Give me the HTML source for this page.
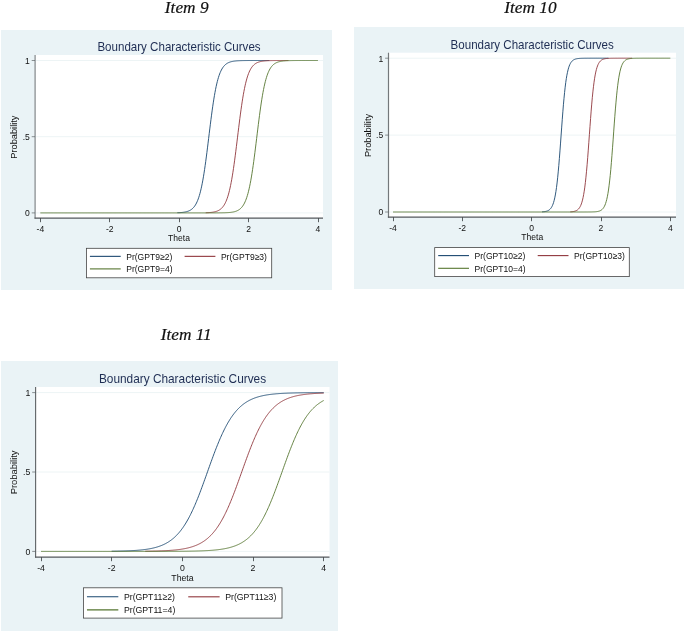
<!DOCTYPE html>
<html><head><meta charset="utf-8"><title>Boundary Characteristic Curves</title>
<style>html,body{margin:0;padding:0;background:#fff}svg{display:block}</style></head>
<body>
<svg width="685" height="632" viewBox="0 0 685 632" font-family="'Liberation Sans', Arial, sans-serif" fill="#111">
<rect x="1" y="30" width="331" height="260" fill="#eaf3f6"/>
<rect x="35" y="55" width="288" height="163" fill="#fff"/>
<line x1="35" x2="323" y1="212.90" y2="212.90" stroke="#edf4f5" stroke-width="1"/>
<line x1="35" x2="323" y1="136.70" y2="136.70" stroke="#edf4f5" stroke-width="1"/>
<line x1="35" x2="323" y1="60.50" y2="60.50" stroke="#edf4f5" stroke-width="1"/>
<path d="M177.42,212.73 L177.99,212.71 L178.57,212.68 L179.15,212.65 L179.73,212.62 L180.31,212.58 L180.88,212.54 L181.46,212.49 L182.04,212.44 L182.62,212.38 L183.20,212.31 L183.78,212.23 L184.35,212.14 L184.93,212.04 L185.51,211.92 L186.09,211.80 L186.67,211.65 L187.24,211.48 L187.82,211.30 L188.40,211.09 L188.98,210.85 L189.56,210.58 L190.13,210.28 L190.71,209.94 L191.29,209.55 L191.87,209.11 L192.45,208.62 L193.03,208.07 L193.60,207.45 L194.18,206.76 L194.76,205.98 L195.34,205.10 L195.92,204.12 L196.49,203.03 L197.07,201.81 L197.65,200.45 L198.23,198.95 L198.81,197.28 L199.38,195.44 L199.96,193.41 L200.54,191.19 L201.12,188.76 L201.70,186.11 L202.28,183.23 L202.85,180.13 L203.43,176.80 L204.01,173.25 L204.59,169.47 L205.17,165.49 L205.74,161.31 L206.32,156.97 L206.90,152.47 L207.48,147.86 L208.06,143.16 L208.63,138.41 L209.21,133.65 L209.79,128.92 L210.37,124.24 L210.95,119.66 L211.53,115.20 L212.10,110.90 L212.68,106.78 L213.26,102.85 L213.84,99.13 L214.42,95.64 L214.99,92.38 L215.57,89.34 L216.15,86.53 L216.73,83.94 L217.31,81.57 L217.88,79.40 L218.46,77.42 L219.04,75.63 L219.62,74.01 L220.20,72.55 L220.78,71.23 L221.35,70.05 L221.93,68.99 L222.51,68.04 L223.09,67.20 L223.67,66.44 L224.24,65.77 L224.82,65.17 L225.40,64.63 L225.98,64.16 L226.56,63.74 L227.13,63.36 L227.71,63.03 L228.29,62.74 L228.87,62.48 L229.45,62.25 L230.03,62.05 L230.60,61.87 L231.18,61.71 L231.76,61.57 L232.34,61.44 L232.92,61.33 L233.49,61.23 L234.07,61.15 L234.65,61.07 L235.23,61.01 L235.81,60.95 L236.38,60.89 L236.96,60.85 L237.54,60.81 L238.12,60.77 L238.70,60.74 L239.28,60.71 L239.85,60.69 L240.43,60.66 L241.01,60.65 L241.59,60.63 L242.17,60.61 L242.74,60.60 L243.32,60.59 L243.90,60.58 L244.48,60.57 L245.06,60.56 L245.63,60.55 L246.21,60.55 L246.79,60.54 L247.37,60.54 L247.95,60.53 L248.53,60.53 L249.10,60.53 L249.68,60.52 L250.26,60.52 L250.84,60.52 L251.42,60.52 L251.99,60.51 L252.57,60.51 L253.15,60.51 L253.73,60.51 L254.31,60.51 L254.88,60.51 L255.46,60.51 L256.04,60.51 L256.62,60.50 L257.20,60.50 L257.77,60.50 L258.35,60.50 L258.93,60.50 L259.51,60.50 L260.09,60.50 L260.67,60.50 L261.24,60.50 L261.82,60.50 L262.40,60.50 L262.98,60.50 L263.56,60.50 L264.13,60.50 L264.71,60.50 L265.29,60.50 L265.87,60.50 L266.45,60.50 L267.02,60.50 L267.60,60.50 L268.18,60.50 L268.76,60.50 L269.34,60.50" fill="none" stroke="#1a476f" stroke-width="0.9" stroke-linejoin="round"/>
<path d="M205.74,212.74 L206.32,212.72 L206.90,212.70 L207.48,212.67 L208.06,212.64 L208.63,212.61 L209.21,212.57 L209.79,212.53 L210.37,212.48 L210.95,212.42 L211.53,212.36 L212.10,212.29 L212.68,212.21 L213.26,212.11 L213.84,212.01 L214.42,211.89 L214.99,211.76 L215.57,211.61 L216.15,211.44 L216.73,211.25 L217.31,211.03 L217.88,210.78 L218.46,210.51 L219.04,210.19 L219.62,209.84 L220.20,209.44 L220.78,208.99 L221.35,208.49 L221.93,207.92 L222.51,207.28 L223.09,206.56 L223.67,205.76 L224.24,204.86 L224.82,203.85 L225.40,202.73 L225.98,201.47 L226.56,200.08 L227.13,198.53 L227.71,196.82 L228.29,194.93 L228.87,192.85 L229.45,190.58 L230.03,188.09 L230.60,185.38 L231.18,182.45 L231.76,179.29 L232.34,175.90 L232.92,172.29 L233.49,168.46 L234.07,164.42 L234.65,160.20 L235.23,155.81 L235.81,151.28 L236.38,146.64 L236.96,141.93 L237.54,137.18 L238.12,132.42 L238.70,127.69 L239.28,123.04 L239.85,118.49 L240.43,114.07 L241.01,109.81 L241.59,105.73 L242.17,101.86 L242.74,98.20 L243.32,94.77 L243.90,91.56 L244.48,88.59 L245.06,85.84 L245.63,83.30 L246.21,80.98 L246.79,78.87 L247.37,76.94 L247.95,75.20 L248.53,73.62 L249.10,72.20 L249.68,70.91 L250.26,69.77 L250.84,68.74 L251.42,67.81 L251.99,66.99 L252.57,66.26 L253.15,65.60 L253.73,65.02 L254.31,64.50 L254.88,64.04 L255.46,63.64 L256.04,63.27 L256.62,62.95 L257.20,62.67 L257.77,62.42 L258.35,62.20 L258.93,62.00 L259.51,61.82 L260.09,61.67 L260.67,61.53 L261.24,61.41 L261.82,61.31 L262.40,61.21 L262.98,61.13 L263.56,61.05 L264.13,60.99 L264.71,60.93 L265.29,60.88 L265.87,60.84 L266.45,60.80 L267.02,60.76 L267.60,60.73 L268.18,60.70 L268.76,60.68 L269.34,60.66 L269.92,60.64 L270.49,60.62 L271.07,60.61 L271.65,60.60 L272.23,60.59 L272.81,60.58 L273.38,60.57 L273.96,60.56 L274.54,60.55 L275.12,60.55 L275.70,60.54 L276.27,60.54 L276.85,60.53 L277.43,60.53 L278.01,60.52 L278.59,60.52 L279.17,60.52 L279.74,60.52 L280.32,60.51 L280.90,60.51 L281.48,60.51 L282.06,60.51 L282.63,60.51 L283.21,60.51 L283.79,60.51 L284.37,60.51 L284.95,60.51 L285.52,60.50 L286.10,60.50 L286.68,60.50 L287.26,60.50 L287.84,60.50 L288.42,60.50" fill="none" stroke="#90353b" stroke-width="0.9" stroke-linejoin="round"/>
<path d="M40.40,212.90 L40.98,212.90 L41.56,212.90 L42.13,212.90 L42.71,212.90 L43.29,212.90 L43.87,212.90 L44.45,212.90 L45.02,212.90 L45.60,212.90 L46.18,212.90 L46.76,212.90 L47.34,212.90 L47.92,212.90 L48.49,212.90 L49.07,212.90 L49.65,212.90 L50.23,212.90 L50.81,212.90 L51.38,212.90 L51.96,212.90 L52.54,212.90 L53.12,212.90 L53.70,212.90 L54.27,212.90 L54.85,212.90 L55.43,212.90 L56.01,212.90 L56.59,212.90 L57.17,212.90 L57.74,212.90 L58.32,212.90 L58.90,212.90 L59.48,212.90 L60.06,212.90 L60.63,212.90 L61.21,212.90 L61.79,212.90 L62.37,212.90 L62.95,212.90 L63.52,212.90 L64.10,212.90 L64.68,212.90 L65.26,212.90 L65.84,212.90 L66.42,212.90 L66.99,212.90 L67.57,212.90 L68.15,212.90 L68.73,212.90 L69.31,212.90 L69.88,212.90 L70.46,212.90 L71.04,212.90 L71.62,212.90 L72.20,212.90 L72.78,212.90 L73.35,212.90 L73.93,212.90 L74.51,212.90 L75.09,212.90 L75.67,212.90 L76.24,212.90 L76.82,212.90 L77.40,212.90 L77.98,212.90 L78.56,212.90 L79.13,212.90 L79.71,212.90 L80.29,212.90 L80.87,212.90 L81.45,212.90 L82.03,212.90 L82.60,212.90 L83.18,212.90 L83.76,212.90 L84.34,212.90 L84.92,212.90 L85.49,212.90 L86.07,212.90 L86.65,212.90 L87.23,212.90 L87.81,212.90 L88.38,212.90 L88.96,212.90 L89.54,212.90 L90.12,212.90 L90.70,212.90 L91.28,212.90 L91.85,212.90 L92.43,212.90 L93.01,212.90 L93.59,212.90 L94.17,212.90 L94.74,212.90 L95.32,212.90 L95.90,212.90 L96.48,212.90 L97.06,212.90 L97.63,212.90 L98.21,212.90 L98.79,212.90 L99.37,212.90 L99.95,212.90 L100.53,212.90 L101.10,212.90 L101.68,212.90 L102.26,212.90 L102.84,212.90 L103.42,212.90 L103.99,212.90 L104.57,212.90 L105.15,212.90 L105.73,212.90 L106.31,212.90 L106.88,212.90 L107.46,212.90 L108.04,212.90 L108.62,212.90 L109.20,212.90 L109.78,212.90 L110.35,212.90 L110.93,212.90 L111.51,212.90 L112.09,212.90 L112.67,212.90 L113.24,212.90 L113.82,212.90 L114.40,212.90 L114.98,212.90 L115.56,212.90 L116.13,212.90 L116.71,212.90 L117.29,212.90 L117.87,212.90 L118.45,212.90 L119.03,212.90 L119.60,212.90 L120.18,212.90 L120.76,212.90 L121.34,212.90 L121.92,212.90 L122.49,212.90 L123.07,212.90 L123.65,212.90 L124.23,212.90 L124.81,212.90 L125.38,212.90 L125.96,212.90 L126.54,212.90 L127.12,212.90 L127.70,212.90 L128.28,212.90 L128.85,212.90 L129.43,212.90 L130.01,212.90 L130.59,212.90 L131.17,212.90 L131.74,212.90 L132.32,212.90 L132.90,212.90 L133.48,212.90 L134.06,212.90 L134.63,212.90 L135.21,212.90 L135.79,212.90 L136.37,212.90 L136.95,212.90 L137.53,212.90 L138.10,212.90 L138.68,212.90 L139.26,212.90 L139.84,212.90 L140.42,212.90 L140.99,212.90 L141.57,212.90 L142.15,212.90 L142.73,212.90 L143.31,212.90 L143.88,212.90 L144.46,212.90 L145.04,212.90 L145.62,212.90 L146.20,212.90 L146.78,212.90 L147.35,212.90 L147.93,212.90 L148.51,212.90 L149.09,212.90 L149.67,212.90 L150.24,212.90 L150.82,212.90 L151.40,212.90 L151.98,212.90 L152.56,212.90 L153.13,212.90 L153.71,212.90 L154.29,212.90 L154.87,212.90 L155.45,212.90 L156.03,212.90 L156.60,212.90 L157.18,212.90 L157.76,212.90 L158.34,212.90 L158.92,212.90 L159.49,212.90 L160.07,212.90 L160.65,212.90 L161.23,212.90 L161.81,212.90 L162.38,212.90 L162.96,212.90 L163.54,212.90 L164.12,212.90 L164.70,212.90 L165.28,212.90 L165.85,212.90 L166.43,212.90 L167.01,212.90 L167.59,212.90 L168.17,212.90 L168.74,212.90 L169.32,212.90 L169.90,212.90 L170.48,212.90 L171.06,212.90 L171.63,212.90 L172.21,212.90 L172.79,212.90 L173.37,212.90 L173.95,212.90 L174.53,212.90 L175.10,212.90 L175.68,212.90 L176.26,212.90 L176.84,212.90 L177.42,212.90 L177.99,212.90 L178.57,212.90 L179.15,212.90 L179.73,212.90 L180.31,212.90 L180.88,212.90 L181.46,212.90 L182.04,212.90 L182.62,212.90 L183.20,212.90 L183.78,212.90 L184.35,212.90 L184.93,212.90 L185.51,212.90 L186.09,212.90 L186.67,212.90 L187.24,212.90 L187.82,212.90 L188.40,212.90 L188.98,212.90 L189.56,212.90 L190.13,212.90 L190.71,212.90 L191.29,212.90 L191.87,212.90 L192.45,212.90 L193.03,212.90 L193.60,212.90 L194.18,212.90 L194.76,212.90 L195.34,212.90 L195.92,212.90 L196.49,212.90 L197.07,212.90 L197.65,212.90 L198.23,212.90 L198.81,212.90 L199.38,212.90 L199.96,212.90 L200.54,212.90 L201.12,212.90 L201.70,212.90 L202.28,212.90 L202.85,212.90 L203.43,212.90 L204.01,212.90 L204.59,212.90 L205.17,212.90 L205.74,212.90 L206.32,212.90 L206.90,212.90 L207.48,212.90 L208.06,212.90 L208.63,212.90 L209.21,212.89 L209.79,212.89 L210.37,212.89 L210.95,212.89 L211.53,212.89 L212.10,212.89 L212.68,212.89 L213.26,212.89 L213.84,212.89 L214.42,212.88 L214.99,212.88 L215.57,212.88 L216.15,212.88 L216.73,212.87 L217.31,212.87 L217.88,212.87 L218.46,212.86 L219.04,212.86 L219.62,212.85 L220.20,212.84 L220.78,212.84 L221.35,212.83 L221.93,212.82 L222.51,212.81 L223.09,212.80 L223.67,212.78 L224.24,212.77 L224.82,212.75 L225.40,212.73 L225.98,212.71 L226.56,212.68 L227.13,212.65 L227.71,212.62 L228.29,212.58 L228.87,212.54 L229.45,212.49 L230.03,212.44 L230.60,212.38 L231.18,212.31 L231.76,212.23 L232.34,212.14 L232.92,212.04 L233.49,211.93 L234.07,211.80 L234.65,211.66 L235.23,211.49 L235.81,211.31 L236.38,211.10 L236.96,210.86 L237.54,210.59 L238.12,210.29 L238.70,209.95 L239.28,209.57 L239.85,209.13 L240.43,208.64 L241.01,208.10 L241.59,207.48 L242.17,206.79 L242.74,206.01 L243.32,205.14 L243.90,204.16 L244.48,203.08 L245.06,201.86 L245.63,200.51 L246.21,199.01 L246.79,197.35 L247.37,195.52 L247.95,193.50 L248.53,191.28 L249.10,188.86 L249.68,186.22 L250.26,183.35 L250.84,180.26 L251.42,176.94 L251.99,173.39 L252.57,169.63 L253.15,165.65 L253.73,161.48 L254.31,157.14 L254.88,152.65 L255.46,148.05 L256.04,143.35 L256.62,138.60 L257.20,133.84 L257.77,129.11 L258.35,124.43 L258.93,119.84 L259.51,115.38 L260.09,111.07 L260.67,106.94 L261.24,103.00 L261.82,99.28 L262.40,95.78 L262.98,92.50 L263.56,89.46 L264.13,86.64 L264.71,84.04 L265.29,81.66 L265.87,79.48 L266.45,77.50 L267.02,75.70 L267.60,74.07 L268.18,72.61 L268.76,71.28 L269.34,70.10 L269.92,69.03 L270.49,68.08 L271.07,67.23 L271.65,66.47 L272.23,65.79 L272.81,65.19 L273.38,64.65 L273.96,64.18 L274.54,63.75 L275.12,63.38 L275.70,63.05 L276.27,62.75 L276.85,62.49 L277.43,62.26 L278.01,62.05 L278.59,61.87 L279.17,61.71 L279.74,61.57 L280.32,61.45 L280.90,61.34 L281.48,61.24 L282.06,61.15 L282.63,61.08 L283.21,61.01 L283.79,60.95 L284.37,60.90 L284.95,60.85 L285.52,60.81 L286.10,60.77 L286.68,60.74 L287.26,60.71 L287.84,60.69 L288.42,60.67 L288.99,60.65 L289.57,60.63 L290.15,60.61 L290.73,60.60 L291.31,60.59 L291.88,60.58 L292.46,60.57 L293.04,60.56 L293.62,60.55 L294.20,60.55 L294.77,60.54 L295.35,60.54 L295.93,60.53 L296.51,60.53 L297.09,60.53 L297.67,60.52 L298.24,60.52 L298.82,60.52 L299.40,60.52 L299.98,60.51 L300.56,60.51 L301.13,60.51 L301.71,60.51 L302.29,60.51 L302.87,60.51 L303.45,60.51 L304.02,60.51 L304.60,60.50 L305.18,60.50 L305.76,60.50 L306.34,60.50 L306.92,60.50 L307.49,60.50 L308.07,60.50 L308.65,60.50 L309.23,60.50 L309.81,60.50 L310.38,60.50 L310.96,60.50 L311.54,60.50 L312.12,60.50 L312.70,60.50 L313.27,60.50 L313.85,60.50 L314.43,60.50 L315.01,60.50 L315.59,60.50 L316.17,60.50 L316.74,60.50 L317.32,60.50 L317.90,60.50" fill="none" stroke="#55752f" stroke-width="0.9" stroke-linejoin="round"/>
<line x1="35.1" x2="35.1" y1="55" y2="218.6" stroke="#8a8f92" stroke-width="1.3"/>
<line x1="34.5" x2="323" y1="218.1" y2="218.1" stroke="#55595c" stroke-width="1.1"/>
<line x1="31.7" x2="35" y1="212.90" y2="212.90" stroke="#55595c" stroke-width="0.65"/>
<text transform="translate(29.80,216.23) scale(0.926,1)" font-size="9.25" text-anchor="end">0</text>
<line x1="31.7" x2="35" y1="136.70" y2="136.70" stroke="#55595c" stroke-width="0.65"/>
<text transform="translate(29.80,140.03) scale(0.926,1)" font-size="9.25" text-anchor="end">.5</text>
<line x1="31.7" x2="35" y1="60.50" y2="60.50" stroke="#55595c" stroke-width="0.65"/>
<text transform="translate(29.80,63.83) scale(0.926,1)" font-size="9.25" text-anchor="end">1</text>
<line x1="40.50" x2="40.50" y1="218" y2="222.2" stroke="#4a4e51" stroke-width="0.9"/>
<text transform="translate(40.40,231.60) scale(0.926,1)" font-size="9.25" text-anchor="middle">-4</text>
<line x1="109.50" x2="109.50" y1="218" y2="222.2" stroke="#4a4e51" stroke-width="0.9"/>
<text transform="translate(109.78,231.60) scale(0.926,1)" font-size="9.25" text-anchor="middle">-2</text>
<line x1="179.50" x2="179.50" y1="218" y2="222.2" stroke="#4a4e51" stroke-width="0.9"/>
<text transform="translate(179.15,231.60) scale(0.926,1)" font-size="9.25" text-anchor="middle">0</text>
<line x1="248.50" x2="248.50" y1="218" y2="222.2" stroke="#4a4e51" stroke-width="0.9"/>
<text transform="translate(248.53,231.60) scale(0.926,1)" font-size="9.25" text-anchor="middle">2</text>
<line x1="318.50" x2="318.50" y1="218" y2="222.2" stroke="#4a4e51" stroke-width="0.9"/>
<text transform="translate(317.90,231.60) scale(0.926,1)" font-size="9.25" text-anchor="middle">4</text>
<text transform="translate(179.00,240.80) scale(0.926,1)" font-size="9.25" text-anchor="middle">Theta</text>
<text transform="translate(17.10,137.10) rotate(-90) scale(1,0.926)" font-size="9.25" text-anchor="middle">Probability</text>
<text transform="translate(179.00,51.30) scale(0.926,1)" font-size="12.50" text-anchor="middle" fill="#1e2d53">Boundary Characteristic Curves</text>
<rect x="86.4" y="248.3" width="185.29999999999998" height="29.5" fill="#fff" stroke="#444" stroke-width="0.8"/>
<line x1="89.90" x2="120.70" y1="256.35" y2="256.35" stroke="#1a476f" stroke-width="1.1"/>
<text transform="translate(126.20,259.68) scale(0.926,1)" font-size="9.25" text-anchor="start">Pr(GPT9≥2)</text>
<line x1="184.60" x2="215.40" y1="256.35" y2="256.35" stroke="#90353b" stroke-width="1.1"/>
<text transform="translate(220.90,259.68) scale(0.926,1)" font-size="9.25" text-anchor="start">Pr(GPT9≥3)</text>
<line x1="89.90" x2="120.70" y1="268.90" y2="268.90" stroke="#55752f" stroke-width="1.1"/>
<text transform="translate(126.20,272.23) scale(0.926,1)" font-size="9.25" text-anchor="start">Pr(GPT9=4)</text>
<rect x="354" y="27" width="330" height="262" fill="#eaf3f6"/>
<rect x="388.4" y="52.7" width="287.6" height="164.3" fill="#fff"/>
<line x1="388.4" x2="676" y1="212.00" y2="212.00" stroke="#edf4f5" stroke-width="1"/>
<line x1="388.4" x2="676" y1="135.10" y2="135.10" stroke="#edf4f5" stroke-width="1"/>
<line x1="388.4" x2="676" y1="58.20" y2="58.20" stroke="#edf4f5" stroke-width="1"/>
<path d="M542.05,211.84 L542.63,211.80 L543.20,211.76 L543.78,211.70 L544.36,211.64 L544.94,211.55 L545.51,211.45 L546.09,211.32 L546.67,211.16 L547.25,210.97 L547.83,210.73 L548.40,210.44 L548.98,210.09 L549.56,209.65 L550.14,209.12 L550.71,208.47 L551.29,207.67 L551.87,206.70 L552.45,205.53 L553.03,204.10 L553.60,202.39 L554.18,200.33 L554.76,197.88 L555.34,194.97 L555.91,191.55 L556.49,187.57 L557.07,182.97 L557.65,177.75 L558.22,171.88 L558.80,165.41 L559.38,158.38 L559.96,150.89 L560.54,143.08 L561.11,135.10 L561.69,127.12 L562.27,119.31 L562.85,111.82 L563.42,104.79 L564.00,98.32 L564.58,92.45 L565.16,87.23 L565.73,82.63 L566.31,78.65 L566.89,75.23 L567.47,72.32 L568.05,69.87 L568.62,67.81 L569.20,66.10 L569.78,64.67 L570.36,63.50 L570.93,62.53 L571.51,61.73 L572.09,61.08 L572.67,60.55 L573.25,60.11 L573.82,59.76 L574.40,59.47 L574.98,59.23 L575.56,59.04 L576.13,58.88 L576.71,58.75 L577.29,58.65 L577.87,58.56 L578.44,58.50 L579.02,58.44 L579.60,58.40 L580.18,58.36 L580.76,58.33 L581.33,58.30 L581.91,58.29 L582.49,58.27 L583.07,58.26 L583.64,58.25 L584.22,58.24 L584.80,58.23 L585.38,58.22 L585.95,58.22 L586.53,58.22 L587.11,58.21 L587.69,58.21 L588.27,58.21 L588.84,58.21 L589.42,58.21 L590.00,58.20 L590.58,58.20 L591.15,58.20 L591.73,58.20 L592.31,58.20 L592.89,58.20 L593.46,58.20 L594.04,58.20 L594.62,58.20 L595.20,58.20 L595.78,58.20 L596.35,58.20 L596.93,58.20 L597.51,58.20 L598.09,58.20 L598.66,58.20 L599.24,58.20 L599.82,58.20 L600.40,58.20 L600.97,58.20 L601.55,58.20 L602.13,58.20 L602.71,58.20 L603.29,58.20 L603.86,58.20 L604.44,58.20 L605.02,58.20 L605.60,58.20 L606.17,58.20 L606.75,58.20 L607.33,58.20 L607.91,58.20 L608.49,58.20" fill="none" stroke="#1a476f" stroke-width="0.9" stroke-linejoin="round"/>
<path d="M570.36,211.84 L570.93,211.80 L571.51,211.75 L572.09,211.70 L572.67,211.63 L573.25,211.54 L573.82,211.44 L574.40,211.31 L574.98,211.15 L575.56,210.95 L576.13,210.71 L576.71,210.41 L577.29,210.05 L577.87,209.60 L578.44,209.06 L579.02,208.39 L579.60,207.58 L580.18,206.59 L580.76,205.40 L581.33,203.95 L581.91,202.20 L582.49,200.11 L583.07,197.61 L583.64,194.65 L584.22,191.18 L584.80,187.13 L585.38,182.48 L585.95,177.19 L586.53,171.26 L587.11,164.73 L587.69,157.65 L588.27,150.12 L588.84,142.29 L589.42,134.30 L590.00,126.33 L590.58,118.54 L591.15,111.10 L591.73,104.12 L592.31,97.70 L592.89,91.90 L593.46,86.74 L594.04,82.21 L594.62,78.28 L595.20,74.92 L595.78,72.06 L596.35,69.64 L596.93,67.62 L597.51,65.94 L598.09,64.55 L598.66,63.39 L599.24,62.44 L599.82,61.66 L600.40,61.02 L600.97,60.50 L601.55,60.07 L602.13,59.72 L602.71,59.44 L603.29,59.21 L603.86,59.02 L604.44,58.87 L605.02,58.74 L605.60,58.64 L606.17,58.56 L606.75,58.49 L607.33,58.44 L607.91,58.39 L608.49,58.36 L609.06,58.33 L609.64,58.30 L610.22,58.28 L610.80,58.27 L611.37,58.25 L611.95,58.24 L612.53,58.24 L613.11,58.23 L613.68,58.22 L614.26,58.22 L614.84,58.22 L615.42,58.21 L616.00,58.21 L616.57,58.21 L617.15,58.21 L617.73,58.21 L618.31,58.20 L618.88,58.20 L619.46,58.20 L620.04,58.20 L620.62,58.20 L621.19,58.20 L621.77,58.20 L622.35,58.20 L622.93,58.20 L623.51,58.20 L624.08,58.20 L624.66,58.20 L625.24,58.20 L625.82,58.20 L626.39,58.20 L626.97,58.20 L627.55,58.20 L628.13,58.20 L628.70,58.20 L629.28,58.20 L629.86,58.20 L630.44,58.20 L631.02,58.20 L631.59,58.20 L632.17,58.20" fill="none" stroke="#90353b" stroke-width="0.9" stroke-linejoin="round"/>
<path d="M393.00,212.00 L393.58,212.00 L394.16,212.00 L394.73,212.00 L395.31,212.00 L395.89,212.00 L396.47,212.00 L397.04,212.00 L397.62,212.00 L398.20,212.00 L398.78,212.00 L399.35,212.00 L399.93,212.00 L400.51,212.00 L401.09,212.00 L401.67,212.00 L402.24,212.00 L402.82,212.00 L403.40,212.00 L403.98,212.00 L404.55,212.00 L405.13,212.00 L405.71,212.00 L406.29,212.00 L406.87,212.00 L407.44,212.00 L408.02,212.00 L408.60,212.00 L409.18,212.00 L409.75,212.00 L410.33,212.00 L410.91,212.00 L411.49,212.00 L412.06,212.00 L412.64,212.00 L413.22,212.00 L413.80,212.00 L414.38,212.00 L414.95,212.00 L415.53,212.00 L416.11,212.00 L416.69,212.00 L417.26,212.00 L417.84,212.00 L418.42,212.00 L419.00,212.00 L419.57,212.00 L420.15,212.00 L420.73,212.00 L421.31,212.00 L421.89,212.00 L422.46,212.00 L423.04,212.00 L423.62,212.00 L424.20,212.00 L424.77,212.00 L425.35,212.00 L425.93,212.00 L426.51,212.00 L427.08,212.00 L427.66,212.00 L428.24,212.00 L428.82,212.00 L429.40,212.00 L429.97,212.00 L430.55,212.00 L431.13,212.00 L431.71,212.00 L432.28,212.00 L432.86,212.00 L433.44,212.00 L434.02,212.00 L434.60,212.00 L435.17,212.00 L435.75,212.00 L436.33,212.00 L436.91,212.00 L437.48,212.00 L438.06,212.00 L438.64,212.00 L439.22,212.00 L439.79,212.00 L440.37,212.00 L440.95,212.00 L441.53,212.00 L442.11,212.00 L442.68,212.00 L443.26,212.00 L443.84,212.00 L444.42,212.00 L444.99,212.00 L445.57,212.00 L446.15,212.00 L446.73,212.00 L447.30,212.00 L447.88,212.00 L448.46,212.00 L449.04,212.00 L449.62,212.00 L450.19,212.00 L450.77,212.00 L451.35,212.00 L451.93,212.00 L452.50,212.00 L453.08,212.00 L453.66,212.00 L454.24,212.00 L454.81,212.00 L455.39,212.00 L455.97,212.00 L456.55,212.00 L457.13,212.00 L457.70,212.00 L458.28,212.00 L458.86,212.00 L459.44,212.00 L460.01,212.00 L460.59,212.00 L461.17,212.00 L461.75,212.00 L462.32,212.00 L462.90,212.00 L463.48,212.00 L464.06,212.00 L464.64,212.00 L465.21,212.00 L465.79,212.00 L466.37,212.00 L466.95,212.00 L467.52,212.00 L468.10,212.00 L468.68,212.00 L469.26,212.00 L469.84,212.00 L470.41,212.00 L470.99,212.00 L471.57,212.00 L472.15,212.00 L472.72,212.00 L473.30,212.00 L473.88,212.00 L474.46,212.00 L475.03,212.00 L475.61,212.00 L476.19,212.00 L476.77,212.00 L477.35,212.00 L477.92,212.00 L478.50,212.00 L479.08,212.00 L479.66,212.00 L480.23,212.00 L480.81,212.00 L481.39,212.00 L481.97,212.00 L482.54,212.00 L483.12,212.00 L483.70,212.00 L484.28,212.00 L484.86,212.00 L485.43,212.00 L486.01,212.00 L486.59,212.00 L487.17,212.00 L487.74,212.00 L488.32,212.00 L488.90,212.00 L489.48,212.00 L490.05,212.00 L490.63,212.00 L491.21,212.00 L491.79,212.00 L492.37,212.00 L492.94,212.00 L493.52,212.00 L494.10,212.00 L494.68,212.00 L495.25,212.00 L495.83,212.00 L496.41,212.00 L496.99,212.00 L497.57,212.00 L498.14,212.00 L498.72,212.00 L499.30,212.00 L499.88,212.00 L500.45,212.00 L501.03,212.00 L501.61,212.00 L502.19,212.00 L502.76,212.00 L503.34,212.00 L503.92,212.00 L504.50,212.00 L505.08,212.00 L505.65,212.00 L506.23,212.00 L506.81,212.00 L507.39,212.00 L507.96,212.00 L508.54,212.00 L509.12,212.00 L509.70,212.00 L510.27,212.00 L510.85,212.00 L511.43,212.00 L512.01,212.00 L512.59,212.00 L513.16,212.00 L513.74,212.00 L514.32,212.00 L514.90,212.00 L515.47,212.00 L516.05,212.00 L516.63,212.00 L517.21,212.00 L517.78,212.00 L518.36,212.00 L518.94,212.00 L519.52,212.00 L520.10,212.00 L520.67,212.00 L521.25,212.00 L521.83,212.00 L522.41,212.00 L522.98,212.00 L523.56,212.00 L524.14,212.00 L524.72,212.00 L525.30,212.00 L525.87,212.00 L526.45,212.00 L527.03,212.00 L527.61,212.00 L528.18,212.00 L528.76,212.00 L529.34,212.00 L529.92,212.00 L530.49,212.00 L531.07,212.00 L531.65,212.00 L532.23,212.00 L532.81,212.00 L533.38,212.00 L533.96,212.00 L534.54,212.00 L535.12,212.00 L535.69,212.00 L536.27,212.00 L536.85,212.00 L537.43,212.00 L538.00,212.00 L538.58,212.00 L539.16,212.00 L539.74,212.00 L540.32,212.00 L540.89,212.00 L541.47,212.00 L542.05,212.00 L542.63,212.00 L543.20,212.00 L543.78,212.00 L544.36,212.00 L544.94,212.00 L545.51,212.00 L546.09,212.00 L546.67,212.00 L547.25,212.00 L547.83,212.00 L548.40,212.00 L548.98,212.00 L549.56,212.00 L550.14,212.00 L550.71,212.00 L551.29,212.00 L551.87,212.00 L552.45,212.00 L553.03,212.00 L553.60,212.00 L554.18,212.00 L554.76,212.00 L555.34,212.00 L555.91,212.00 L556.49,212.00 L557.07,212.00 L557.65,212.00 L558.22,212.00 L558.80,212.00 L559.38,212.00 L559.96,212.00 L560.54,212.00 L561.11,212.00 L561.69,212.00 L562.27,212.00 L562.85,212.00 L563.42,212.00 L564.00,212.00 L564.58,212.00 L565.16,212.00 L565.73,212.00 L566.31,212.00 L566.89,212.00 L567.47,212.00 L568.05,212.00 L568.62,212.00 L569.20,212.00 L569.78,212.00 L570.36,212.00 L570.93,212.00 L571.51,212.00 L572.09,212.00 L572.67,212.00 L573.25,212.00 L573.82,212.00 L574.40,212.00 L574.98,212.00 L575.56,212.00 L576.13,212.00 L576.71,212.00 L577.29,212.00 L577.87,212.00 L578.44,212.00 L579.02,212.00 L579.60,212.00 L580.18,212.00 L580.76,212.00 L581.33,212.00 L581.91,212.00 L582.49,212.00 L583.07,212.00 L583.64,212.00 L584.22,212.00 L584.80,211.99 L585.38,211.99 L585.95,211.99 L586.53,211.99 L587.11,211.99 L587.69,211.99 L588.27,211.98 L588.84,211.98 L589.42,211.97 L590.00,211.97 L590.58,211.96 L591.15,211.95 L591.73,211.94 L592.31,211.92 L592.89,211.91 L593.46,211.89 L594.04,211.86 L594.62,211.83 L595.20,211.79 L595.78,211.74 L596.35,211.68 L596.93,211.60 L597.51,211.51 L598.09,211.40 L598.66,211.26 L599.24,211.09 L599.82,210.88 L600.40,210.63 L600.97,210.31 L601.55,209.92 L602.13,209.45 L602.71,208.87 L603.29,208.17 L603.86,207.31 L604.44,206.26 L605.02,204.99 L605.60,203.46 L606.17,201.61 L606.75,199.40 L607.33,196.77 L607.91,193.67 L608.49,190.03 L609.06,185.80 L609.64,180.96 L610.22,175.48 L610.80,169.36 L611.37,162.66 L611.95,155.43 L612.53,147.80 L613.11,139.90 L613.68,131.90 L614.26,123.96 L614.84,116.27 L615.42,108.95 L616.00,102.13 L616.57,95.89 L617.15,90.28 L617.73,85.31 L618.31,80.97 L618.88,77.22 L619.46,74.01 L620.04,71.29 L620.62,69.00 L621.19,67.09 L621.77,65.49 L622.35,64.18 L622.93,63.09 L623.51,62.19 L624.08,61.46 L624.66,60.86 L625.24,60.36 L625.82,59.96 L626.39,59.63 L626.97,59.37 L627.55,59.15 L628.13,58.97 L628.70,58.83 L629.28,58.71 L629.86,58.61 L630.44,58.54 L631.02,58.47 L631.59,58.42 L632.17,58.38 L632.75,58.35 L633.33,58.32 L633.90,58.30 L634.48,58.28 L635.06,58.26 L635.64,58.25 L636.22,58.24 L636.79,58.23 L637.37,58.23 L637.95,58.22 L638.53,58.22 L639.10,58.21 L639.68,58.21 L640.26,58.21 L640.84,58.21 L641.41,58.21 L641.99,58.21 L642.57,58.20 L643.15,58.20 L643.73,58.20 L644.30,58.20 L644.88,58.20 L645.46,58.20 L646.04,58.20 L646.61,58.20 L647.19,58.20 L647.77,58.20 L648.35,58.20 L648.92,58.20 L649.50,58.20 L650.08,58.20 L650.66,58.20 L651.24,58.20 L651.81,58.20 L652.39,58.20 L652.97,58.20 L653.55,58.20 L654.12,58.20 L654.70,58.20 L655.28,58.20 L655.86,58.20 L656.43,58.20 L657.01,58.20 L657.59,58.20 L658.17,58.20 L658.75,58.20 L659.32,58.20 L659.90,58.20 L660.48,58.20 L661.06,58.20 L661.63,58.20 L662.21,58.20 L662.79,58.20 L663.37,58.20 L663.95,58.20 L664.52,58.20 L665.10,58.20 L665.68,58.20 L666.26,58.20 L666.83,58.20 L667.41,58.20 L667.99,58.20 L668.57,58.20 L669.14,58.20 L669.72,58.20 L670.30,58.20" fill="none" stroke="#55752f" stroke-width="0.9" stroke-linejoin="round"/>
<line x1="388.5" x2="388.5" y1="52.7" y2="217.6" stroke="#74787b" stroke-width="1.2"/>
<line x1="387.9" x2="676" y1="217.1" y2="217.1" stroke="#55595c" stroke-width="1.1"/>
<line x1="385.09999999999997" x2="388.4" y1="212.00" y2="212.00" stroke="#55595c" stroke-width="0.65"/>
<text transform="translate(383.20,215.33) scale(0.926,1)" font-size="9.25" text-anchor="end">0</text>
<line x1="385.09999999999997" x2="388.4" y1="135.10" y2="135.10" stroke="#55595c" stroke-width="0.65"/>
<text transform="translate(383.20,138.43) scale(0.926,1)" font-size="9.25" text-anchor="end">.5</text>
<line x1="385.09999999999997" x2="388.4" y1="58.20" y2="58.20" stroke="#55595c" stroke-width="0.65"/>
<text transform="translate(383.20,61.53) scale(0.926,1)" font-size="9.25" text-anchor="end">1</text>
<line x1="393.50" x2="393.50" y1="217" y2="221.2" stroke="#4a4e51" stroke-width="0.9"/>
<text transform="translate(393.00,230.60) scale(0.926,1)" font-size="9.25" text-anchor="middle">-4</text>
<line x1="462.50" x2="462.50" y1="217" y2="221.2" stroke="#4a4e51" stroke-width="0.9"/>
<text transform="translate(462.32,230.60) scale(0.926,1)" font-size="9.25" text-anchor="middle">-2</text>
<line x1="531.50" x2="531.50" y1="217" y2="221.2" stroke="#4a4e51" stroke-width="0.9"/>
<text transform="translate(531.65,230.60) scale(0.926,1)" font-size="9.25" text-anchor="middle">0</text>
<line x1="601.50" x2="601.50" y1="217" y2="221.2" stroke="#4a4e51" stroke-width="0.9"/>
<text transform="translate(600.97,230.60) scale(0.926,1)" font-size="9.25" text-anchor="middle">2</text>
<line x1="670.50" x2="670.50" y1="217" y2="221.2" stroke="#4a4e51" stroke-width="0.9"/>
<text transform="translate(670.30,230.60) scale(0.926,1)" font-size="9.25" text-anchor="middle">4</text>
<text transform="translate(532.20,239.80) scale(0.926,1)" font-size="9.25" text-anchor="middle">Theta</text>
<text transform="translate(370.70,135.50) rotate(-90) scale(1,0.926)" font-size="9.25" text-anchor="middle">Probability</text>
<text transform="translate(532.20,48.90) scale(0.926,1)" font-size="12.50" text-anchor="middle" fill="#1e2d53">Boundary Characteristic Curves</text>
<rect x="434.7" y="247.6" width="194.59999999999997" height="29.00000000000003" fill="#fff" stroke="#444" stroke-width="0.8"/>
<line x1="438.20" x2="469.00" y1="255.60" y2="255.60" stroke="#1a476f" stroke-width="1.1"/>
<text transform="translate(474.50,258.93) scale(0.926,1)" font-size="9.25" text-anchor="start">Pr(GPT10≥2)</text>
<line x1="537.70" x2="568.50" y1="255.60" y2="255.60" stroke="#90353b" stroke-width="1.1"/>
<text transform="translate(574.00,258.93) scale(0.926,1)" font-size="9.25" text-anchor="start">Pr(GPT10≥3)</text>
<line x1="438.20" x2="469.00" y1="268.30" y2="268.30" stroke="#55752f" stroke-width="1.1"/>
<text transform="translate(474.50,271.63) scale(0.926,1)" font-size="9.25" text-anchor="start">Pr(GPT10=4)</text>
<rect x="1" y="361" width="337" height="270" fill="#eaf3f6"/>
<rect x="35.5" y="387" width="294.0" height="170" fill="#fff"/>
<line x1="35.5" x2="329.5" y1="551.40" y2="551.40" stroke="#edf4f5" stroke-width="1"/>
<line x1="35.5" x2="329.5" y1="472.00" y2="472.00" stroke="#edf4f5" stroke-width="1"/>
<line x1="35.5" x2="329.5" y1="392.60" y2="392.60" stroke="#edf4f5" stroke-width="1"/>
<path d="M111.67,551.22 L112.26,551.21 L112.85,551.20 L113.44,551.19 L114.03,551.19 L114.62,551.18 L115.21,551.17 L115.80,551.16 L116.39,551.15 L116.98,551.14 L117.56,551.13 L118.15,551.11 L118.74,551.10 L119.33,551.09 L119.92,551.08 L120.51,551.06 L121.10,551.05 L121.69,551.03 L122.28,551.02 L122.87,551.00 L123.45,550.98 L124.04,550.97 L124.63,550.95 L125.22,550.93 L125.81,550.91 L126.40,550.89 L126.99,550.87 L127.58,550.84 L128.17,550.82 L128.75,550.80 L129.34,550.77 L129.93,550.74 L130.52,550.72 L131.11,550.69 L131.70,550.66 L132.29,550.62 L132.88,550.59 L133.47,550.56 L134.06,550.52 L134.64,550.48 L135.23,550.45 L135.82,550.41 L136.41,550.36 L137.00,550.32 L137.59,550.27 L138.18,550.23 L138.77,550.18 L139.36,550.13 L139.94,550.07 L140.53,550.02 L141.12,549.96 L141.71,549.90 L142.30,549.83 L142.89,549.77 L143.48,549.70 L144.07,549.63 L144.66,549.55 L145.25,549.47 L145.83,549.39 L146.42,549.31 L147.01,549.22 L147.60,549.13 L148.19,549.03 L148.78,548.94 L149.37,548.83 L149.96,548.72 L150.55,548.61 L151.14,548.50 L151.72,548.38 L152.31,548.25 L152.90,548.12 L153.49,547.98 L154.08,547.84 L154.67,547.69 L155.26,547.54 L155.85,547.38 L156.44,547.21 L157.02,547.04 L157.61,546.86 L158.20,546.67 L158.79,546.47 L159.38,546.27 L159.97,546.06 L160.56,545.84 L161.15,545.61 L161.74,545.38 L162.33,545.13 L162.91,544.87 L163.50,544.61 L164.09,544.33 L164.68,544.05 L165.27,543.75 L165.86,543.44 L166.45,543.12 L167.04,542.78 L167.63,542.44 L168.22,542.08 L168.80,541.71 L169.39,541.32 L169.98,540.92 L170.57,540.51 L171.16,540.08 L171.75,539.63 L172.34,539.17 L172.93,538.69 L173.52,538.19 L174.10,537.68 L174.69,537.15 L175.28,536.60 L175.87,536.03 L176.46,535.44 L177.05,534.83 L177.64,534.20 L178.23,533.55 L178.82,532.88 L179.41,532.19 L179.99,531.48 L180.58,530.74 L181.17,529.98 L181.76,529.19 L182.35,528.39 L182.94,527.55 L183.53,526.70 L184.12,525.82 L184.71,524.91 L185.29,523.98 L185.88,523.02 L186.47,522.03 L187.06,521.02 L187.65,519.99 L188.24,518.92 L188.83,517.83 L189.42,516.72 L190.01,515.57 L190.60,514.41 L191.18,513.21 L191.77,511.99 L192.36,510.74 L192.95,509.47 L193.54,508.17 L194.13,506.85 L194.72,505.50 L195.31,504.13 L195.90,502.73 L196.49,501.31 L197.07,499.88 L197.66,498.41 L198.25,496.93 L198.84,495.43 L199.43,493.91 L200.02,492.38 L200.61,490.82 L201.20,489.25 L201.79,487.67 L202.37,486.08 L202.96,484.47 L203.55,482.85 L204.14,481.22 L204.73,479.59 L205.32,477.94 L205.91,476.30 L206.50,474.65 L207.09,472.99 L207.68,471.34 L208.26,469.68 L208.85,468.03 L209.44,466.39 L210.03,464.74 L210.62,463.10 L211.21,461.48 L211.80,459.86 L212.39,458.25 L212.98,456.65 L213.56,455.06 L214.15,453.49 L214.74,451.93 L215.33,450.39 L215.92,448.87 L216.51,447.37 L217.10,445.88 L217.69,444.42 L218.28,442.97 L218.87,441.55 L219.45,440.15 L220.04,438.77 L220.63,437.42 L221.22,436.09 L221.81,434.79 L222.40,433.51 L222.99,432.26 L223.58,431.03 L224.17,429.83 L224.75,428.66 L225.34,427.51 L225.93,426.39 L226.52,425.29 L227.11,424.22 L227.70,423.18 L228.29,422.17 L228.88,421.18 L229.47,420.21 L230.06,419.28 L230.64,418.36 L231.23,417.48 L231.82,416.62 L232.41,415.78 L233.00,414.97 L233.59,414.18 L234.18,413.41 L234.77,412.67 L235.36,411.95 L235.95,411.25 L236.53,410.58 L237.12,409.92 L237.71,409.29 L238.30,408.68 L238.89,408.09 L239.48,407.51 L240.07,406.96 L240.66,406.43 L241.25,405.91 L241.83,405.41 L242.42,404.93 L243.01,404.46 L243.60,404.01 L244.19,403.58 L244.78,403.16 L245.37,402.76 L245.96,402.37 L246.55,401.99 L247.14,401.63 L247.72,401.28 L248.31,400.95 L248.90,400.62 L249.49,400.31 L250.08,400.01 L250.67,399.72 L251.26,399.45 L251.85,399.18 L252.44,398.92 L253.02,398.67 L253.61,398.43 L254.20,398.20 L254.79,397.98 L255.38,397.77 L255.97,397.57 L256.56,397.37 L257.15,397.18 L257.74,397.00 L258.33,396.82 L258.91,396.66 L259.50,396.49 L260.09,396.34 L260.68,396.19 L261.27,396.05 L261.86,395.91 L262.45,395.78 L263.04,395.65 L263.63,395.53 L264.22,395.41 L264.80,395.30 L265.39,395.19 L265.98,395.08 L266.57,394.98 L267.16,394.89 L267.75,394.80 L268.34,394.71 L268.93,394.62 L269.52,394.54 L270.10,394.46 L270.69,394.39 L271.28,394.32 L271.87,394.25 L272.46,394.18 L273.05,394.12 L273.64,394.06 L274.23,394.00 L274.82,393.94 L275.41,393.89 L275.99,393.83 L276.58,393.78 L277.17,393.74 L277.76,393.69 L278.35,393.65 L278.94,393.60 L279.53,393.56 L280.12,393.52 L280.71,393.49 L281.29,393.45 L281.88,393.42 L282.47,393.38 L283.06,393.35 L283.65,393.32 L284.24,393.29 L284.83,393.26 L285.42,393.24 L286.01,393.21 L286.60,393.19 L287.18,393.16 L287.77,393.14 L288.36,393.12 L288.95,393.10 L289.54,393.08 L290.13,393.06 L290.72,393.04 L291.31,393.02 L291.90,393.00 L292.49,392.99 L293.07,392.97 L293.66,392.96 L294.25,392.94 L294.84,392.93 L295.43,392.91 L296.02,392.90 L296.61,392.89 L297.20,392.88 L297.79,392.87 L298.37,392.85 L298.96,392.84 L299.55,392.83 L300.14,392.82 L300.73,392.82 L301.32,392.81 L301.91,392.80 L302.50,392.79 L303.09,392.78 L303.68,392.78 L304.26,392.77 L304.85,392.76 L305.44,392.75 L306.03,392.75 L306.62,392.74 L307.21,392.74 L307.80,392.73 L308.39,392.73 L308.98,392.72 L309.56,392.72 L310.15,392.71 L310.74,392.71 L311.33,392.70 L311.92,392.70 L312.51,392.69 L313.10,392.69 L313.69,392.69 L314.28,392.68 L314.87,392.68 L315.45,392.68 L316.04,392.67 L316.63,392.67 L317.22,392.67 L317.81,392.66 L318.40,392.66 L318.99,392.66 L319.58,392.66 L320.17,392.65 L320.76,392.65 L321.34,392.65 L321.93,392.65 L322.52,392.65 L323.11,392.64 L323.70,392.64" fill="none" stroke="#1a476f" stroke-width="0.9" stroke-linejoin="round"/>
<path d="M145.25,551.23 L145.83,551.22 L146.42,551.21 L147.01,551.20 L147.60,551.20 L148.19,551.19 L148.78,551.18 L149.37,551.17 L149.96,551.16 L150.55,551.15 L151.14,551.14 L151.72,551.13 L152.31,551.12 L152.90,551.10 L153.49,551.09 L154.08,551.08 L154.67,551.06 L155.26,551.05 L155.85,551.04 L156.44,551.02 L157.02,551.00 L157.61,550.99 L158.20,550.97 L158.79,550.95 L159.38,550.93 L159.97,550.91 L160.56,550.89 L161.15,550.87 L161.74,550.85 L162.33,550.82 L162.91,550.80 L163.50,550.77 L164.09,550.75 L164.68,550.72 L165.27,550.69 L165.86,550.66 L166.45,550.63 L167.04,550.60 L167.63,550.56 L168.22,550.53 L168.80,550.49 L169.39,550.45 L169.98,550.41 L170.57,550.37 L171.16,550.33 L171.75,550.28 L172.34,550.24 L172.93,550.19 L173.52,550.14 L174.10,550.08 L174.69,550.03 L175.28,549.97 L175.87,549.91 L176.46,549.85 L177.05,549.78 L177.64,549.71 L178.23,549.64 L178.82,549.57 L179.41,549.49 L179.99,549.41 L180.58,549.33 L181.17,549.24 L181.76,549.15 L182.35,549.05 L182.94,548.96 L183.53,548.85 L184.12,548.75 L184.71,548.64 L185.29,548.52 L185.88,548.40 L186.47,548.27 L187.06,548.14 L187.65,548.01 L188.24,547.87 L188.83,547.72 L189.42,547.57 L190.01,547.41 L190.60,547.24 L191.18,547.07 L191.77,546.89 L192.36,546.71 L192.95,546.51 L193.54,546.31 L194.13,546.10 L194.72,545.89 L195.31,545.66 L195.90,545.42 L196.49,545.18 L197.07,544.93 L197.66,544.66 L198.25,544.39 L198.84,544.10 L199.43,543.81 L200.02,543.50 L200.61,543.18 L201.20,542.85 L201.79,542.51 L202.37,542.15 L202.96,541.78 L203.55,541.40 L204.14,541.00 L204.73,540.59 L205.32,540.16 L205.91,539.72 L206.50,539.26 L207.09,538.79 L207.68,538.29 L208.26,537.78 L208.85,537.26 L209.44,536.71 L210.03,536.14 L210.62,535.56 L211.21,534.96 L211.80,534.33 L212.39,533.69 L212.98,533.02 L213.56,532.33 L214.15,531.62 L214.74,530.89 L215.33,530.13 L215.92,529.35 L216.51,528.55 L217.10,527.72 L217.69,526.87 L218.28,525.99 L218.87,525.09 L219.45,524.17 L220.04,523.21 L220.63,522.23 L221.22,521.23 L221.81,520.20 L222.40,519.14 L222.99,518.05 L223.58,516.94 L224.17,515.81 L224.75,514.64 L225.34,513.45 L225.93,512.24 L226.52,510.99 L227.11,509.72 L227.70,508.43 L228.29,507.11 L228.88,505.77 L229.47,504.40 L230.06,503.01 L230.64,501.60 L231.23,500.16 L231.82,498.71 L232.41,497.23 L233.00,495.73 L233.59,494.22 L234.18,492.69 L234.77,491.14 L235.36,489.57 L235.95,487.99 L236.53,486.40 L237.12,484.79 L237.71,483.17 L238.30,481.55 L238.89,479.91 L239.48,478.27 L240.07,476.63 L240.66,474.98 L241.25,473.32 L241.83,471.67 L242.42,470.02 L243.01,468.36 L243.60,466.71 L244.19,465.07 L244.78,463.43 L245.37,461.80 L245.96,460.18 L246.55,458.57 L247.14,456.97 L247.72,455.38 L248.31,453.80 L248.90,452.24 L249.49,450.70 L250.08,449.17 L250.67,447.66 L251.26,446.18 L251.85,444.71 L252.44,443.26 L253.02,441.83 L253.61,440.43 L254.20,439.05 L254.79,437.69 L255.38,436.36 L255.97,435.05 L256.56,433.76 L257.15,432.51 L257.74,431.28 L258.33,430.07 L258.91,428.89 L259.50,427.74 L260.09,426.61 L260.68,425.51 L261.27,424.44 L261.86,423.39 L262.45,422.37 L263.04,421.37 L263.63,420.40 L264.22,419.46 L264.80,418.54 L265.39,417.65 L265.98,416.79 L266.57,415.94 L267.16,415.13 L267.75,414.33 L268.34,413.56 L268.93,412.82 L269.52,412.09 L270.10,411.39 L270.69,410.71 L271.28,410.05 L271.87,409.42 L272.46,408.80 L273.05,408.20 L273.64,407.63 L274.23,407.07 L274.82,406.53 L275.41,406.01 L275.99,405.51 L276.58,405.02 L277.17,404.55 L277.76,404.10 L278.35,403.66 L278.94,403.24 L279.53,402.84 L280.12,402.45 L280.71,402.07 L281.29,401.70 L281.88,401.35 L282.47,401.01 L283.06,400.69 L283.65,400.37 L284.24,400.07 L284.83,399.78 L285.42,399.50 L286.01,399.23 L286.60,398.97 L287.18,398.72 L287.77,398.48 L288.36,398.25 L288.95,398.03 L289.54,397.81 L290.13,397.61 L290.72,397.41 L291.31,397.22 L291.90,397.03 L292.49,396.86 L293.07,396.69 L293.66,396.53 L294.25,396.37 L294.84,396.22 L295.43,396.07 L296.02,395.94 L296.61,395.80 L297.20,395.67 L297.79,395.55 L298.37,395.43 L298.96,395.32 L299.55,395.21 L300.14,395.11 L300.73,395.00 L301.32,394.91 L301.91,394.82 L302.50,394.73 L303.09,394.64 L303.68,394.56 L304.26,394.48 L304.85,394.40 L305.44,394.33 L306.03,394.26 L306.62,394.19 L307.21,394.13 L307.80,394.07 L308.39,394.01 L308.98,393.95 L309.56,393.90 L310.15,393.84 L310.74,393.79 L311.33,393.75 L311.92,393.70 L312.51,393.65 L313.10,393.61 L313.69,393.57 L314.28,393.53 L314.87,393.49 L315.45,393.46 L316.04,393.42 L316.63,393.39 L317.22,393.36 L317.81,393.33 L318.40,393.30 L318.99,393.27 L319.58,393.24 L320.17,393.21 L320.76,393.19 L321.34,393.17 L321.93,393.14 L322.52,393.12 L323.11,393.10 L323.70,393.08" fill="none" stroke="#90353b" stroke-width="0.9" stroke-linejoin="round"/>
<path d="M41.00,551.40 L41.59,551.40 L42.18,551.40 L42.77,551.40 L43.36,551.40 L43.94,551.40 L44.53,551.40 L45.12,551.40 L45.71,551.40 L46.30,551.40 L46.89,551.40 L47.48,551.40 L48.07,551.40 L48.66,551.40 L49.25,551.40 L49.83,551.40 L50.42,551.40 L51.01,551.40 L51.60,551.40 L52.19,551.40 L52.78,551.40 L53.37,551.40 L53.96,551.40 L54.55,551.40 L55.13,551.40 L55.72,551.40 L56.31,551.40 L56.90,551.40 L57.49,551.40 L58.08,551.40 L58.67,551.40 L59.26,551.40 L59.85,551.40 L60.44,551.40 L61.02,551.40 L61.61,551.40 L62.20,551.40 L62.79,551.40 L63.38,551.40 L63.97,551.40 L64.56,551.40 L65.15,551.40 L65.74,551.40 L66.33,551.40 L66.91,551.40 L67.50,551.40 L68.09,551.40 L68.68,551.40 L69.27,551.40 L69.86,551.40 L70.45,551.40 L71.04,551.40 L71.63,551.40 L72.21,551.40 L72.80,551.40 L73.39,551.40 L73.98,551.40 L74.57,551.40 L75.16,551.40 L75.75,551.40 L76.34,551.40 L76.93,551.40 L77.52,551.40 L78.10,551.40 L78.69,551.40 L79.28,551.40 L79.87,551.40 L80.46,551.40 L81.05,551.40 L81.64,551.40 L82.23,551.40 L82.82,551.40 L83.41,551.40 L83.99,551.40 L84.58,551.40 L85.17,551.40 L85.76,551.40 L86.35,551.40 L86.94,551.40 L87.53,551.40 L88.12,551.40 L88.71,551.40 L89.29,551.40 L89.88,551.40 L90.47,551.40 L91.06,551.40 L91.65,551.40 L92.24,551.40 L92.83,551.40 L93.42,551.40 L94.01,551.40 L94.60,551.40 L95.18,551.40 L95.77,551.40 L96.36,551.40 L96.95,551.40 L97.54,551.40 L98.13,551.40 L98.72,551.40 L99.31,551.40 L99.90,551.40 L100.48,551.40 L101.07,551.40 L101.66,551.40 L102.25,551.40 L102.84,551.40 L103.43,551.40 L104.02,551.40 L104.61,551.40 L105.20,551.40 L105.79,551.40 L106.37,551.40 L106.96,551.40 L107.55,551.40 L108.14,551.40 L108.73,551.40 L109.32,551.40 L109.91,551.40 L110.50,551.40 L111.09,551.40 L111.67,551.40 L112.26,551.40 L112.85,551.40 L113.44,551.40 L114.03,551.40 L114.62,551.40 L115.21,551.40 L115.80,551.40 L116.39,551.40 L116.98,551.40 L117.56,551.40 L118.15,551.40 L118.74,551.40 L119.33,551.40 L119.92,551.40 L120.51,551.40 L121.10,551.40 L121.69,551.40 L122.28,551.40 L122.87,551.40 L123.45,551.40 L124.04,551.40 L124.63,551.40 L125.22,551.40 L125.81,551.40 L126.40,551.40 L126.99,551.40 L127.58,551.40 L128.17,551.40 L128.75,551.40 L129.34,551.40 L129.93,551.40 L130.52,551.40 L131.11,551.40 L131.70,551.40 L132.29,551.40 L132.88,551.40 L133.47,551.40 L134.06,551.40 L134.64,551.40 L135.23,551.40 L135.82,551.39 L136.41,551.39 L137.00,551.39 L137.59,551.39 L138.18,551.39 L138.77,551.39 L139.36,551.39 L139.94,551.39 L140.53,551.39 L141.12,551.39 L141.71,551.39 L142.30,551.39 L142.89,551.39 L143.48,551.39 L144.07,551.39 L144.66,551.39 L145.25,551.39 L145.83,551.39 L146.42,551.39 L147.01,551.39 L147.60,551.39 L148.19,551.39 L148.78,551.39 L149.37,551.39 L149.96,551.39 L150.55,551.39 L151.14,551.38 L151.72,551.38 L152.31,551.38 L152.90,551.38 L153.49,551.38 L154.08,551.38 L154.67,551.38 L155.26,551.38 L155.85,551.38 L156.44,551.38 L157.02,551.38 L157.61,551.38 L158.20,551.38 L158.79,551.37 L159.38,551.37 L159.97,551.37 L160.56,551.37 L161.15,551.37 L161.74,551.37 L162.33,551.37 L162.91,551.37 L163.50,551.36 L164.09,551.36 L164.68,551.36 L165.27,551.36 L165.86,551.36 L166.45,551.36 L167.04,551.35 L167.63,551.35 L168.22,551.35 L168.80,551.35 L169.39,551.34 L169.98,551.34 L170.57,551.34 L171.16,551.34 L171.75,551.33 L172.34,551.33 L172.93,551.33 L173.52,551.33 L174.10,551.32 L174.69,551.32 L175.28,551.32 L175.87,551.31 L176.46,551.31 L177.05,551.31 L177.64,551.30 L178.23,551.30 L178.82,551.29 L179.41,551.29 L179.99,551.28 L180.58,551.28 L181.17,551.27 L181.76,551.27 L182.35,551.26 L182.94,551.26 L183.53,551.25 L184.12,551.24 L184.71,551.24 L185.29,551.23 L185.88,551.22 L186.47,551.22 L187.06,551.21 L187.65,551.20 L188.24,551.19 L188.83,551.18 L189.42,551.17 L190.01,551.16 L190.60,551.15 L191.18,551.14 L191.77,551.13 L192.36,551.12 L192.95,551.11 L193.54,551.10 L194.13,551.08 L194.72,551.07 L195.31,551.06 L195.90,551.04 L196.49,551.03 L197.07,551.01 L197.66,550.99 L198.25,550.98 L198.84,550.96 L199.43,550.94 L200.02,550.92 L200.61,550.90 L201.20,550.88 L201.79,550.86 L202.37,550.83 L202.96,550.81 L203.55,550.79 L204.14,550.76 L204.73,550.73 L205.32,550.70 L205.91,550.67 L206.50,550.64 L207.09,550.61 L207.68,550.58 L208.26,550.54 L208.85,550.51 L209.44,550.47 L210.03,550.43 L210.62,550.39 L211.21,550.35 L211.80,550.30 L212.39,550.25 L212.98,550.21 L213.56,550.16 L214.15,550.10 L214.74,550.05 L215.33,549.99 L215.92,549.93 L216.51,549.87 L217.10,549.81 L217.69,549.74 L218.28,549.67 L218.87,549.60 L219.45,549.52 L220.04,549.44 L220.63,549.36 L221.22,549.27 L221.81,549.18 L222.40,549.09 L222.99,549.00 L223.58,548.89 L224.17,548.79 L224.75,548.68 L225.34,548.57 L225.93,548.45 L226.52,548.33 L227.11,548.20 L227.70,548.06 L228.29,547.93 L228.88,547.78 L229.47,547.63 L230.06,547.47 L230.64,547.31 L231.23,547.14 L231.82,546.97 L232.41,546.78 L233.00,546.59 L233.59,546.39 L234.18,546.19 L234.77,545.97 L235.36,545.75 L235.95,545.52 L236.53,545.28 L237.12,545.03 L237.71,544.77 L238.30,544.50 L238.89,544.22 L239.48,543.93 L240.07,543.63 L240.66,543.31 L241.25,542.99 L241.83,542.65 L242.42,542.30 L243.01,541.93 L243.60,541.55 L244.19,541.16 L244.78,540.76 L245.37,540.34 L245.96,539.90 L246.55,539.45 L247.14,538.98 L247.72,538.49 L248.31,537.99 L248.90,537.47 L249.49,536.93 L250.08,536.37 L250.67,535.80 L251.26,535.20 L251.85,534.58 L252.44,533.95 L253.02,533.29 L253.61,532.61 L254.20,531.91 L254.79,531.18 L255.38,530.44 L255.97,529.67 L256.56,528.87 L257.15,528.06 L257.74,527.21 L258.33,526.35 L258.91,525.46 L259.50,524.54 L260.09,523.60 L260.68,522.63 L261.27,521.63 L261.86,520.61 L262.45,519.56 L263.04,518.49 L263.63,517.39 L264.22,516.26 L264.80,515.11 L265.39,513.93 L265.98,512.72 L266.57,511.49 L267.16,510.24 L267.75,508.95 L268.34,507.64 L268.93,506.31 L269.52,504.95 L270.10,503.57 L270.69,502.17 L271.28,500.74 L271.87,499.29 L272.46,497.82 L273.05,496.34 L273.64,494.83 L274.23,493.30 L274.82,491.76 L275.41,490.20 L275.99,488.62 L276.58,487.03 L277.17,485.43 L277.76,483.82 L278.35,482.20 L278.94,480.57 L279.53,478.93 L280.12,477.29 L280.71,475.64 L281.29,473.98 L281.88,472.33 L282.47,470.68 L283.06,469.02 L283.65,467.37 L284.24,465.73 L284.83,464.09 L285.42,462.45 L286.01,460.83 L286.60,459.21 L287.18,457.60 L287.77,456.01 L288.36,454.43 L288.95,452.86 L289.54,451.31 L290.13,449.78 L290.72,448.27 L291.31,446.77 L291.90,445.29 L292.49,443.84 L293.07,442.40 L293.66,440.99 L294.25,439.60 L294.84,438.23 L295.43,436.89 L296.02,435.57 L296.61,434.28 L297.20,433.01 L297.79,431.76 L298.37,430.55 L298.96,429.36 L299.55,428.19 L300.14,427.06 L300.73,425.95 L301.32,424.86 L301.91,423.80 L302.50,422.77 L303.09,421.77 L303.68,420.79 L304.26,419.83 L304.85,418.91 L305.44,418.01 L306.03,417.13 L306.62,416.28 L307.21,415.45 L307.80,414.65 L308.39,413.87 L308.98,413.11 L309.56,412.38 L310.15,411.67 L310.74,410.98 L311.33,410.31 L311.92,409.67 L312.51,409.04 L313.10,408.44 L313.69,407.86 L314.28,407.29 L314.87,406.74 L315.45,406.22 L316.04,405.71 L316.63,405.21 L317.22,404.74 L317.81,404.28 L318.40,403.84 L318.99,403.41 L319.58,403.00 L320.17,402.60 L320.76,402.22 L321.34,401.85 L321.93,401.49 L322.52,401.15 L323.11,400.82 L323.70,400.50" fill="none" stroke="#55752f" stroke-width="0.9" stroke-linejoin="round"/>
<line x1="35.6" x2="35.6" y1="387" y2="557.6" stroke="#63676a" stroke-width="1.15"/>
<line x1="35.0" x2="329.5" y1="557.1" y2="557.1" stroke="#55595c" stroke-width="1.1"/>
<line x1="32.2" x2="35.5" y1="551.40" y2="551.40" stroke="#55595c" stroke-width="0.65"/>
<text transform="translate(30.30,554.79) scale(0.926,1)" font-size="9.42" text-anchor="end">0</text>
<line x1="32.2" x2="35.5" y1="472.00" y2="472.00" stroke="#55595c" stroke-width="0.65"/>
<text transform="translate(30.30,475.39) scale(0.926,1)" font-size="9.42" text-anchor="end">.5</text>
<line x1="32.2" x2="35.5" y1="392.60" y2="392.60" stroke="#55595c" stroke-width="0.65"/>
<text transform="translate(30.30,395.99) scale(0.926,1)" font-size="9.42" text-anchor="end">1</text>
<line x1="41.50" x2="41.50" y1="557" y2="561.2" stroke="#4a4e51" stroke-width="0.9"/>
<text transform="translate(41.00,570.84) scale(0.926,1)" font-size="9.42" text-anchor="middle">-4</text>
<line x1="111.50" x2="111.50" y1="557" y2="561.2" stroke="#4a4e51" stroke-width="0.9"/>
<text transform="translate(111.67,570.84) scale(0.926,1)" font-size="9.42" text-anchor="middle">-2</text>
<line x1="182.50" x2="182.50" y1="557" y2="561.2" stroke="#4a4e51" stroke-width="0.9"/>
<text transform="translate(182.35,570.84) scale(0.926,1)" font-size="9.42" text-anchor="middle">0</text>
<line x1="253.50" x2="253.50" y1="557" y2="561.2" stroke="#4a4e51" stroke-width="0.9"/>
<text transform="translate(253.02,570.84) scale(0.926,1)" font-size="9.42" text-anchor="middle">2</text>
<line x1="323.50" x2="323.50" y1="557" y2="561.2" stroke="#4a4e51" stroke-width="0.9"/>
<text transform="translate(323.70,570.84) scale(0.926,1)" font-size="9.42" text-anchor="middle">4</text>
<text transform="translate(182.50,580.90) scale(0.926,1)" font-size="9.42" text-anchor="middle">Theta</text>
<text transform="translate(17.40,472.40) rotate(-90) scale(1,0.926)" font-size="9.42" text-anchor="middle">Probability</text>
<text transform="translate(182.50,382.90) scale(0.926,1)" font-size="12.81" text-anchor="middle" fill="#1e2d53">Boundary Characteristic Curves</text>
<rect x="83.4" y="587.8" width="198.6" height="30.300000000000068" fill="#fff" stroke="#444" stroke-width="0.8"/>
<line x1="86.96" x2="118.32" y1="596.81" y2="596.81" stroke="#1a476f" stroke-width="1.1"/>
<text transform="translate(123.92,600.20) scale(0.926,1)" font-size="9.42" text-anchor="start">Pr(GPT11≥2)</text>
<line x1="188.25" x2="219.61" y1="596.81" y2="596.81" stroke="#90353b" stroke-width="1.1"/>
<text transform="translate(225.21,600.20) scale(0.926,1)" font-size="9.42" text-anchor="start">Pr(GPT11≥3)</text>
<line x1="86.96" x2="118.32" y1="609.91" y2="609.91" stroke="#55752f" stroke-width="1.1"/>
<text transform="translate(123.92,613.30) scale(0.926,1)" font-size="9.42" text-anchor="start">Pr(GPT11=4)</text>
<text x="186.7" y="12.7" font-family="'Liberation Serif', 'Times New Roman', serif" font-style="italic" font-size="17.3" text-anchor="middle" fill="#111" stroke="#111" stroke-width="0.2">Item 9</text>
<text x="530.4" y="12.5" font-family="'Liberation Serif', 'Times New Roman', serif" font-style="italic" font-size="17.3" text-anchor="middle" fill="#111" stroke="#111" stroke-width="0.2">Item 10</text>
<text x="186.2" y="339.9" font-family="'Liberation Serif', 'Times New Roman', serif" font-style="italic" font-size="17.3" text-anchor="middle" fill="#111" stroke="#111" stroke-width="0.2">Item 11</text>
</svg>
</body></html>
